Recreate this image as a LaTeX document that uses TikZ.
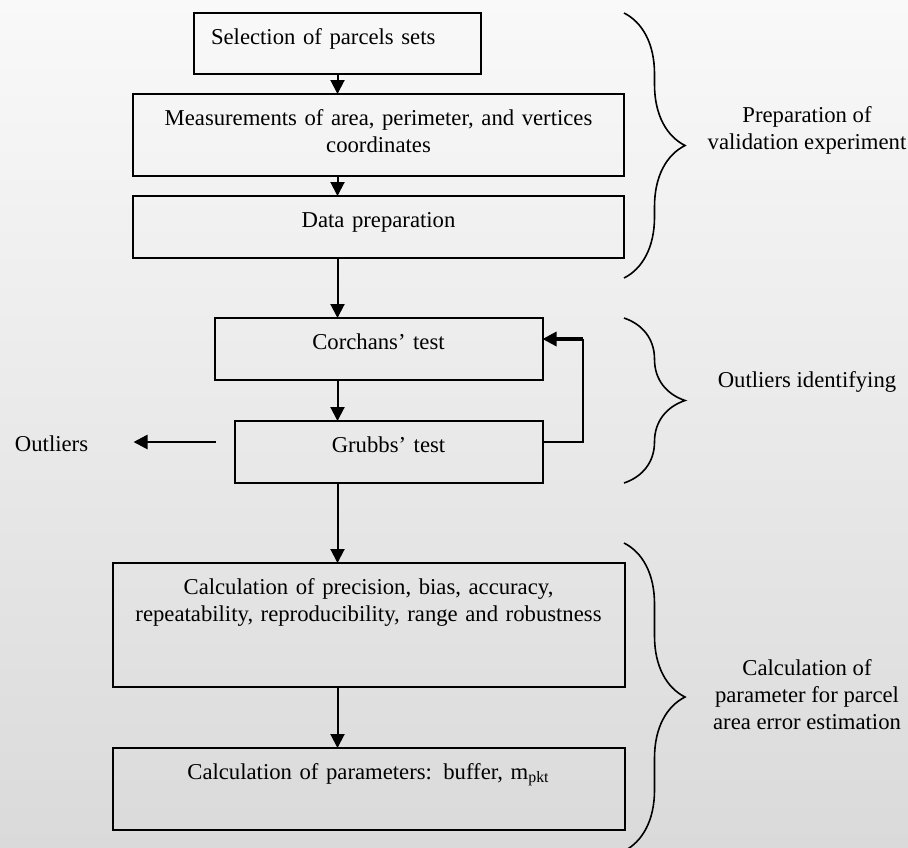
\documentclass[tikz,border=0pt]{standalone}
\usepackage{fontspec}
\setmainfont{Liberation Serif}
\usetikzlibrary{positioning, arrows.meta, decorations.pathreplacing}
\definecolor{bgtop}{HTML}{F9F9F9}
\definecolor{bgbottom}{HTML}{DADADA}
\tikzset{
    >={Triangle[length=7pt, width=7pt]}, % filled heads on every arrow
    node distance=10pt, % gap between the boxes of one block
    every node/.style={font=\fontsize{11.35}{13.5}\selectfont},
    stepbox/.style={draw, line width=1pt, inner xsep=0pt, inner ysep=0pt, outer sep=0pt, text height=15.5pt, align=center}, % text sits near the top edge
    flow/.style={->, line width=1pt},
    group/.style={decorate, decoration={brace, amplitude=30.5pt}, line width=0.8pt},
    grouplabel/.style={align=center, inner sep=0pt},
    }

\begin{document}
\begin{tikzpicture}
\shade[top color=bgtop, bottom color=bgbottom] (0,0) rectangle (454pt,-423.5pt);
\useasboundingbox (0,0) rectangle (454pt,-423.5pt);

\node[stepbox, anchor=north, text width=126.5pt, inner xsep=8.5pt, text depth=15pt, align=left] (sel) at (168.75pt,-6.5pt) {Selection of parcels sets};
\node[stepbox, below=of sel, xshift=20.5pt, text width=245.5pt, text depth=25.5pt] (meas) {Measurements of area, perimeter, and vertices\\coordinates};
\node[stepbox, below=of meas, text width=245.5pt, text depth=15.5pt] (prep) {Data preparation};
\node[stepbox, below=30pt of prep, text width=164pt, text depth=15.5pt] (corch) {Corchans' test};
\node[stepbox, below=20.5pt of corch, xshift=5pt, text width=154pt, text depth=15.5pt] (grubbs) {Grubbs' test};
\node[stepbox, below=40pt of grubbs, xshift=-10pt, text width=256pt, text depth=46.5pt] (calc) {Calculation of precision, bias, accuracy,\\repeatability, reproducibility, range and robustness};
\node[stepbox, below=30.5pt of calc, text width=256pt, text depth=25.5pt] (param) {Calculation of parameters: buffer, m\textsubscript{pkt}};
\node[left=73pt of grubbs, yshift=4pt, inner sep=0pt] (outl) {Outliers};

% main flow, all on the column of the first box
\draw[flow] (sel) -- (sel |- meas.north);
\draw[flow] (meas.south -| sel) -- (prep.north -| sel);
\draw[flow] (prep.south -| sel) -- (corch.north -| sel);
\draw[flow] (corch.south -| sel) -- (grubbs.north -| sel);
\draw[flow] (grubbs.south -| sel) -- (calc.north -| sel);
\draw[flow] (calc.south -| sel) -- (param.north -| sel);

% loop back from Grubbs to Corchans and the outliers exit
\coordinate[yshift=5pt] (gout) at (grubbs.east);
\coordinate[yshift=5pt] (cin) at (corch.east);
\coordinate[xshift=-9.5pt, yshift=5pt] (gleft) at (grubbs.west);
\coordinate[xshift=22.5pt] (oend) at (outl.east);
\draw[line width=1pt] (gout) -- ++(20pt,0) coordinate (turn) -- (turn |- cin);
\draw[->, line width=1.6pt] (turn |- cin) -- (cin);
\draw[->, line width=1.3pt] (gleft) -- (oend |- gleft);

% braces with the stage names
\coordinate (g1a) at (meas.east |- sel.north);
\coordinate[yshift=-10pt] (g1b) at (meas.east |- prep.south);
\coordinate (g2a) at (meas.east |- corch.north);
\coordinate (g2b) at (meas.east |- grubbs.south);
\coordinate[yshift=10pt] (g3a) at (meas.east |- calc.north);
\coordinate[yshift=-10.5pt] (g3b) at (meas.east |- param.south);
\draw[group] (g1a) -- (g1b) node[grouplabel, midway, xshift=91.5pt, yshift=7.75pt] (prepl) {Preparation of\\validation experiment};
\draw[group] (g2a) -- (g2b) node[grouplabel, midway, xshift=91.5pt, yshift=9.25pt] (outll) {Outliers identifying};
\draw[group] (g3a) -- (g3b) node[grouplabel, midway, xshift=91.5pt, yshift=1pt] (calcl) {Calculation of\\parameter for parcel\\area error estimation};

\end{tikzpicture}
\end{document}
